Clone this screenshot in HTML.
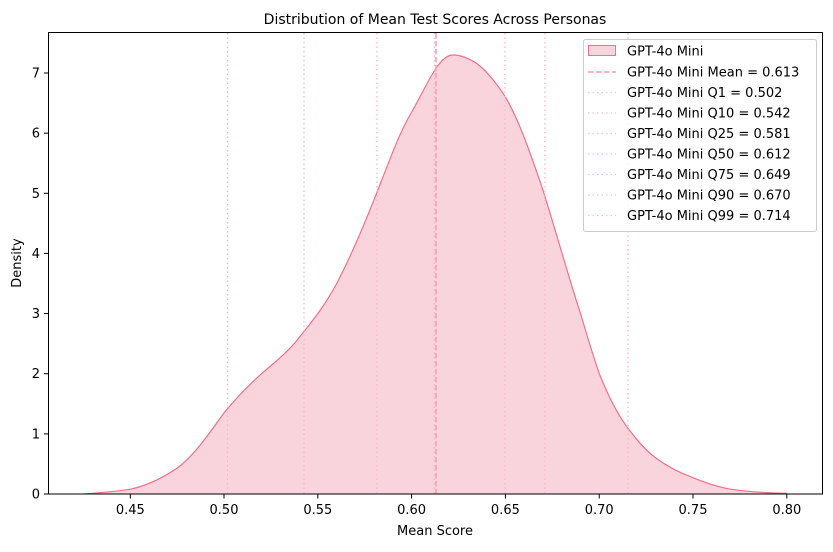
<!DOCTYPE html>
<html><head><meta charset="utf-8"><style>
body{margin:0;background:#fff}
text{font-family:"DejaVu Sans","Liberation Sans",sans-serif;fill:#000}
</style></head><body>
<svg width="833" height="547" viewBox="0 0 833 547" xmlns="http://www.w3.org/2000/svg">
<rect width="833" height="547" fill="#fff"/>
<text x="435" y="24" font-size="14" text-anchor="middle">Distribution of Mean Test Scores Across Personas</text>
<path id="c" d="M83.4,494 C110,492 120,491 130.3,489.2 C150,485 165,476 177.2,468.1 C195,455 210,432 224.1,412.8 C238,396 250,384 261.6,373.7 C275,362 288,352 299.1,337.6 C315,318 325,305 336.7,283.5 C350,258 362,230 374.2,199.3 C388,165 398,135 411.7,112 C422,94 432,72 440,63 C445,57 449,55 453,55 C462,55 470,59 477.4,64 C488,72 497,84 505.5,97.1 C520,122 532,158 543,190.3 C556,232 568,275 580.5,313.6 C587,335 593,356 599.3,373.7 C607,393 615,410 625.5,424.8 C635,438 645,450 655.6,457.9 C668,467 680,473 693.1,477.8 C706,483 718,487 730.6,489.2 C750,492 770,493 786.9,493.4 L786.9,494 L83.4,494 Z" fill="#fad4dc" stroke="none"/>
<path d="M83.4,494 C110,492 120,491 130.3,489.2 C150,485 165,476 177.2,468.1 C195,455 210,432 224.1,412.8 C238,396 250,384 261.6,373.7 C275,362 288,352 299.1,337.6 C315,318 325,305 336.7,283.5 C350,258 362,230 374.2,199.3 C388,165 398,135 411.7,112 C422,94 432,72 440,63 C445,57 449,55 453,55 C462,55 470,59 477.4,64 C488,72 497,84 505.5,97.1 C520,122 532,158 543,190.3 C556,232 568,275 580.5,313.6 C587,335 593,356 599.3,373.7 C607,393 615,410 625.5,424.8 C635,438 645,450 655.6,457.9 C668,467 680,473 693.1,477.8 C706,483 718,487 730.6,489.2 C750,492 770,493 786.9,493.4" fill="none" stroke="#f36f8a" stroke-width="1.2"/>
<g stroke="#f7b8c6" stroke-width="1.3" stroke-dasharray="1.5,3">
<line x1="227.5" y1="33" x2="227.5" y2="494"/>
<line x1="304" y1="33" x2="304" y2="494"/>
<line x1="377" y1="33" x2="377" y2="494"/>
<line x1="434.5" y1="33" x2="434.5" y2="494"/>
<line x1="505" y1="33" x2="505" y2="494"/>
<line x1="545" y1="33" x2="545" y2="494"/>
<line x1="628" y1="33" x2="628" y2="494"/>
</g>
<line x1="436" y1="33" x2="436" y2="494" stroke="#f4a0b4" stroke-width="1.5" stroke-dasharray="5.5,2.5"/>
<rect x="48.5" y="32.5" width="774" height="461.5" fill="none" stroke="#000" stroke-width="1"/>
<g stroke="#000" stroke-width="1">
<line x1="44" y1="494" x2="48.5" y2="494"/><line x1="44" y1="433.9" x2="48.5" y2="433.9"/><line x1="44" y1="373.7" x2="48.5" y2="373.7"/><line x1="44" y1="313.6" x2="48.5" y2="313.6"/><line x1="44" y1="253.4" x2="48.5" y2="253.4"/><line x1="44" y1="193.3" x2="48.5" y2="193.3"/><line x1="44" y1="133.2" x2="48.5" y2="133.2"/><line x1="44" y1="73" x2="48.5" y2="73"/>
<line x1="130.3" y1="494" x2="130.3" y2="498.5"/><line x1="224" y1="494" x2="224" y2="498.5"/><line x1="317.8" y1="494" x2="317.8" y2="498.5"/><line x1="411.6" y1="494" x2="411.6" y2="498.5"/><line x1="505.4" y1="494" x2="505.4" y2="498.5"/><line x1="599.2" y1="494" x2="599.2" y2="498.5"/><line x1="693" y1="494" x2="693" y2="498.5"/><line x1="786.8" y1="494" x2="786.8" y2="498.5"/>
</g>
<g font-size="13" text-anchor="end">
<text x="40" y="498.5">0</text><text x="40" y="438.4">1</text><text x="40" y="378.2">2</text><text x="40" y="318.1">3</text><text x="40" y="257.9">4</text><text x="40" y="197.8">5</text><text x="40" y="137.7">6</text><text x="40" y="77.5">7</text>
</g>
<g font-size="13" text-anchor="middle">
<text x="130.3" y="514">0.45</text><text x="224" y="514">0.50</text><text x="317.8" y="514">0.55</text><text x="411.6" y="514">0.60</text><text x="505.4" y="514">0.65</text><text x="599.2" y="514">0.70</text><text x="693" y="514">0.75</text><text x="786.8" y="514">0.80</text>
</g>
<text x="435" y="535" font-size="13" text-anchor="middle">Mean Score</text>
<text x="21" y="263" font-size="13" text-anchor="middle" transform="rotate(-90 21 263)">Density</text>
<rect x="583.5" y="39.5" width="233" height="192" rx="2" fill="#fff" fill-opacity="0.85" stroke="#ccc"/>
<rect x="588.5" y="45.5" width="27" height="10" fill="#fad4dc" stroke="#f36f8a"/>
<line x1="588" y1="72" x2="616" y2="72" stroke="#f4a0b4" stroke-width="1.5" stroke-dasharray="5.5,2.5"/>
<g stroke="#f7c4d0" stroke-width="1.3" stroke-dasharray="1.5,3">
<line x1="588" y1="92.5" x2="616" y2="92.5"/><line x1="588" y1="113" x2="616" y2="113"/><line x1="588" y1="133.5" x2="616" y2="133.5"/><line x1="588" y1="154" x2="616" y2="154"/><line x1="588" y1="174.5" x2="616" y2="174.5"/><line x1="588" y1="195" x2="616" y2="195"/><line x1="588" y1="215.5" x2="616" y2="215.5"/>
</g>
<g font-size="13">
<text x="627" y="55.5">GPT-4o Mini</text>
<text x="627" y="76.5">GPT-4o Mini Mean = 0.613</text>
<text x="627" y="97">GPT-4o Mini Q1 = 0.502</text>
<text x="627" y="117.5">GPT-4o Mini Q10 = 0.542</text>
<text x="627" y="138">GPT-4o Mini Q25 = 0.581</text>
<text x="627" y="158.5">GPT-4o Mini Q50 = 0.612</text>
<text x="627" y="179">GPT-4o Mini Q75 = 0.649</text>
<text x="627" y="199.5">GPT-4o Mini Q90 = 0.670</text>
<text x="627" y="220">GPT-4o Mini Q99 = 0.714</text>
</g>
</svg>
</body></html>
